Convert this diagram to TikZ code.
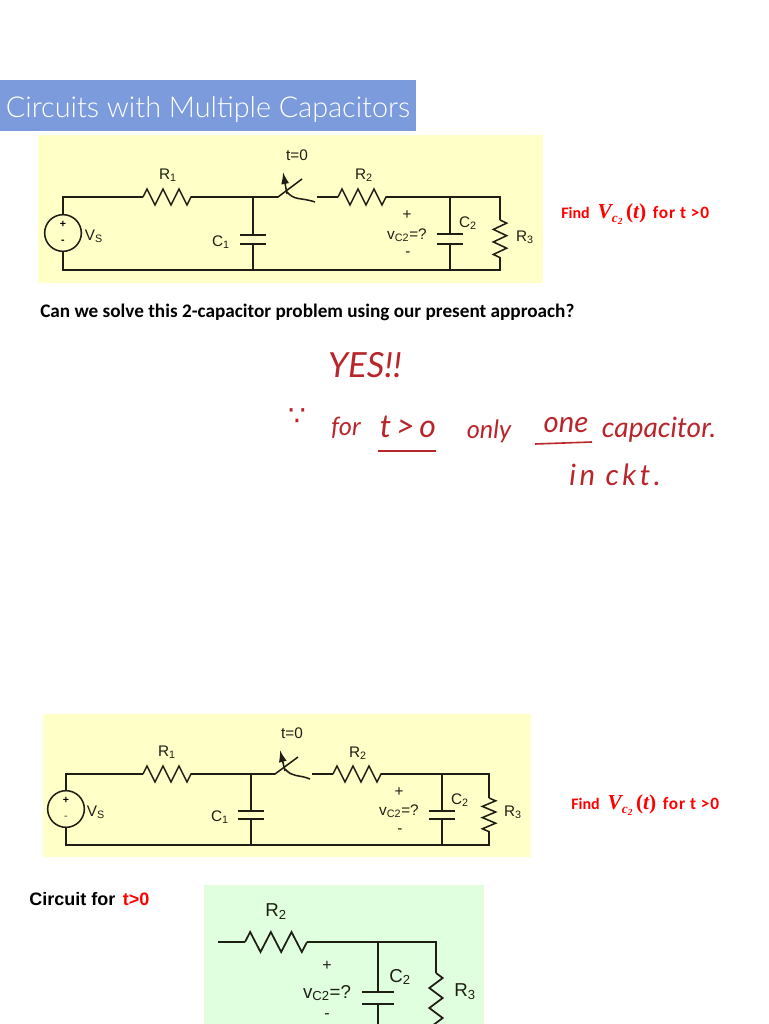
\documentclass[tikz,border=0pt]{standalone}
\usepackage{fontspec}
\setmainfont{Liberation Sans}
\newfontfamily\titlefont{Lato Light}
\newfontfamily\notefont{Carlito}
\newfontfamily\mathfont{Liberation Serif}
\newfontfamily\handfont{Lato}
\usepackage{tikz}
\usetikzlibrary{arrows.meta,decorations.pathmorphing}
\definecolor{wirecol}{HTML}{1E1E14}
\definecolor{inkcol}{HTML}{B8252B}
\definecolor{yellowbg}{HTML}{FFFFC8}
\definecolor{greenbg}{HTML}{DFFFDF}
\definecolor{titlebg}{HTML}{7B9BDC}
\tikzset{
    wire/.style={draw=wirecol,line width=1.15pt},
    res/.style={wire,decorate,decoration={zigzag,segment length=12pt,amplitude=6pt}},
    resv/.style={wire,decorate,decoration={zigzag,segment length=9.4pt,amplitude=5pt}},
    swarrow/.style={wire,-{Latex[length=9pt,width=6pt]}},
    plate/.style={fill=wirecol,inner sep=0pt,minimum width=20pt,minimum height=1.3pt},
    src/.style={shape=circle,draw=wirecol,line width=1.15pt,inner sep=0pt,minimum size=27.5pt},
    lbl/.style={text=wirecol,inner sep=0pt,font=\fontsize{11.5}{13}\selectfont},
    biglbl/.style={text=wirecol,inner sep=0pt,font=\fontsize{14}{16}\selectfont},
    ink/.style={text=inkcol,inner sep=0pt,font=\handfont\itshape\fontsize{19}{22}\selectfont},
    find/.style={text=red,inner sep=0pt,anchor=west,font=\notefont\bfseries\fontsize{12}{14}\selectfont}
}
\newcommand{\vctwo}{{\mathfont\bfseries\itshape\fontsize{16}{18}\selectfont V\lower3pt\hbox{\fontsize{10}{10}\selectfont c\lower1.5pt\hbox{\fontsize{7}{7}\selectfont 2}}\,{\upshape(}t{\upshape)}}}
\newcommand{\findtext}{Find\hspace{6pt}\vctwo\hspace{5pt}{\fontsize{13}{14}\selectfont\addfontfeatures{LetterSpace=5}for t >0}}
\begin{document}
\begin{tikzpicture}[x=0.75pt,y=-0.75pt]
    \clip (0,0) rectangle (768,1024);
    % Title bar and text lines
    \node[fill=titlebg,inner sep=0pt,minimum width=312pt,minimum height=38.25pt,anchor=north west] (titlebar) at (0,80) {};
    \node[text=white,inner sep=0pt,font=\titlefont\fontsize{21.6}{26}\selectfont] (title) at (208,110) {Circuits with Multiple Capacitors};
    \node[inner sep=0pt,anchor=west,font=\notefont\bfseries\fontsize{14.4}{17}\selectfont] (question) at (40,312) {Can we solve this 2-capacitor problem using our present approach?};
    \node[find] (findA) at (561,214) {\findtext};
    \node[find] (findB) at (571,805) {\findtext};
    \node[inner sep=0pt,anchor=west,font=\bfseries\fontsize{13.5}{16}\selectfont] (forlabel) at (29,899) {Circuit for\hspace{2pt} \textcolor{red}{t>0}};

    % Handwritten answer
    \node[ink,font=\handfont\itshape\fontsize{26}{28}\selectfont] (yes) at (365,365) {YES!!};
    \node[ink,font=\fontspec{DejaVu Sans}\fontsize{21}{22}\selectfont] (since) at (297,417) {∵};
    \node[ink] (for) at (346,428) {for};
    \node[ink,font=\handfont\itshape\fontsize{24}{26}\addfontfeatures{LetterSpace=15}\selectfont] (tgt) at (408,427) {t>o};
    \node[ink] (only) at (489,431) {only};
    \node[ink,font=\handfont\itshape\fontsize{22}{24}\selectfont] (one) at (566,425) {one};
    \node[ink,font=\handfont\itshape\fontsize{21}{24}\selectfont] (capacitor) at (659,430) {capacitor.};
    \node[ink,font=\handfont\itshape\fontsize{22}{24}\addfontfeatures{LetterSpace=12}\selectfont] (inckt) at (615,475) {in ckt.};
    \coordinate (ua) at (378,451);
    \coordinate (ub) at (436,451);
    \coordinate (uc) at (535,444);
    \coordinate (ud) at (592,442);
    \draw[draw=inkcol,line width=1.2pt] (ua) -- (ub);
    \draw[draw=inkcol,line width=1.2pt] (uc) -- (ud);

    % First circuit
    \node[fill=yellowbg,inner sep=0pt,minimum width=378.75pt,minimum height=111pt,anchor=north west] (panelA) at (38,135) {};
    \node[src] (vsA) at (63,233) {};
    \coordinate (tlA) at (63,197);
    \coordinate (blA) at (63,270);
    \coordinate (raA) at (143,197);
    \coordinate (rbA) at (193,197);
    \coordinate (jtA) at (253,197);
    \coordinate (jbA) at (253,270);
    \coordinate (swaA) at (278,197);
    \coordinate (swbA) at (302,179);
    \coordinate (swcA) at (315,202);
    \coordinate (swdA) at (287,192);
    \coordinate (sweA) at (287,194);
    \coordinate (swfA) at (283,172);
    \coordinate (rcA) at (317,197);
    \coordinate (rdA) at (338,197);
    \coordinate (reA) at (389,197);
    \coordinate (ktA) at (450,197);
    \coordinate (kbA) at (450,270);
    \coordinate (trA) at (500,197);
    \coordinate (brA) at (500,270);
    \coordinate (rfA) at (500,220);
    \coordinate (rgA) at (500,258);
    \node[plate] (c1tA) at (253,235) {};
    \node[plate] (c1bA) at (253,244) {};
    \node[plate] (c2tA) at (450,234) {};
    \node[plate] (c2bA) at (450,244) {};
    \draw[wire] (vsA) -- (tlA) -- (raA);
    \draw[res] (raA) -- (rbA);
    \draw[wire] (rbA) -- (jtA) -- (swaA) -- (swbA);
    \draw[wire] (swdA) .. controls (295,201) and (300,197) .. (swcA);
    \draw[swarrow] (sweA) -- (swfA);
    \draw[wire] (rcA) -- (rdA);
    \draw[res] (rdA) -- (reA);
    \draw[wire] (reA) -- (ktA) -- (trA) -- (rfA);
    \draw[resv] (rfA) -- (rgA);
    \draw[wire] (rgA) -- (brA) -- (kbA) -- (jbA) -- (blA) -- (vsA);
    \draw[wire] (jtA) -- (c1tA);
    \draw[wire] (c1bA) -- (jbA);
    \draw[wire] (ktA) -- (c2tA);
    \draw[wire] (c2bA) -- (kbA);
    \node[inner sep=0pt,font=\bfseries\fontsize{8}{8}\selectfont] (plusA) at (63,224) {+};
    \node[inner sep=0pt,font=\bfseries\fontsize{8}{8}\selectfont] (minusA) at (63,242) {-};
    \node[lbl] (tzA) at (297,155) {t=0};
    \node[lbl] (r1A) at (168,175) {R\textsubscript{1}};
    \node[lbl] (r2A) at (364,175) {R\textsubscript{2}};
    \node[lbl] (r3A) at (525,237) {R\textsubscript{3}};
    \node[lbl] (c1A) at (221,242) {C\textsubscript{1}};
    \node[lbl] (c2A) at (468,223) {C\textsubscript{2}};
    \node[lbl] (vlA) at (94,236) {V\textsubscript{S}};
    \node[lbl] (vpA) at (407,215) {+};
    \node[lbl] (vcA) at (407,235) {v\textsubscript{C2}=?};
    \node[lbl] (vmA) at (408,254) {-};

    % Second circuit
    \node[fill=yellowbg,inner sep=0pt,minimum width=366pt,minimum height=107.25pt,anchor=north west] (panelB) at (43,714) {};
    \node[src] (vsB) at (66,809) {};
    \coordinate (tlB) at (66,774);
    \coordinate (blB) at (66,845);
    \coordinate (raB) at (143,774);
    \coordinate (rbB) at (192,774);
    \coordinate (jtB) at (251,774);
    \coordinate (jbB) at (251,845);
    \coordinate (swaB) at (275,774);
    \coordinate (swbB) at (298,757);
    \coordinate (swcB) at (310,779);
    \coordinate (swdB) at (285,769);
    \coordinate (sweB) at (285,771);
    \coordinate (swfB) at (280,750);
    \coordinate (rcB) at (312,774);
    \coordinate (rdB) at (333,774);
    \coordinate (reB) at (383,774);
    \coordinate (ktB) at (442,774);
    \coordinate (kbB) at (442,845);
    \coordinate (trB) at (489,774);
    \coordinate (brB) at (489,845);
    \coordinate (rfB) at (489,798);
    \coordinate (rgB) at (489,832);
    \node[plate] (c1tB) at (251,811) {};
    \node[plate] (c1bB) at (251,819) {};
    \node[plate] (c2tB) at (442,811) {};
    \node[plate] (c2bB) at (442,819) {};
    \draw[wire] (vsB) -- (tlB) -- (raB);
    \draw[res] (raB) -- (rbB);
    \draw[wire] (rbB) -- (jtB) -- (swaB) -- (swbB);
    \draw[wire] (swdB) .. controls (293,778) and (298,774) .. (swcB);
    \draw[swarrow] (sweB) -- (swfB);
    \draw[wire] (rcB) -- (rdB);
    \draw[res] (rdB) -- (reB);
    \draw[wire] (reB) -- (ktB) -- (trB) -- (rfB);
    \draw[resv,decoration={segment length=8.4pt}] (rfB) -- (rgB);
    \draw[wire] (rgB) -- (brB) -- (kbB) -- (jbB) -- (blB) -- (vsB);
    \draw[wire] (jtB) -- (c1tB);
    \draw[wire] (c1bB) -- (jbB);
    \draw[wire] (ktB) -- (c2tB);
    \draw[wire] (c2bB) -- (kbB);
    \node[inner sep=0pt,font=\bfseries\fontsize{8}{8}\selectfont] (plusB) at (66,800) {+};
    \node[inner sep=0pt,text=gray,font=\bfseries\fontsize{8}{8}\selectfont] (minusB) at (66,818) {-};
    \node[lbl] (tzB) at (292,733) {t=0};
    \node[lbl] (r1B) at (167,752) {R\textsubscript{1}};
    \node[lbl] (r2B) at (358,753) {R\textsubscript{2}};
    \node[lbl] (r3B) at (513,812) {R\textsubscript{3}};
    \node[lbl] (c1B) at (220,817) {C\textsubscript{1}};
    \node[lbl] (c2B) at (460,800) {C\textsubscript{2}};
    \node[lbl] (vlB) at (96,812) {V\textsubscript{S}};
    \node[lbl] (vpB) at (399,792) {+};
    \node[lbl] (vcB) at (399,811) {v\textsubscript{C2}=?};
    \node[lbl] (vmB) at (400,831) {-};

    % Circuit for t>0
    \node[fill=greenbg,inner sep=0pt,minimum width=210pt,minimum height=105pt,anchor=north west] (panelC) at (204,885) {};
    \coordinate (inC) at (218,942);
    \coordinate (raC) at (245,942);
    \coordinate (rbC) at (307,942);
    \coordinate (ktC) at (378,942);
    \coordinate (kbC) at (378,1030);
    \coordinate (trC) at (436,942);
    \coordinate (rfC) at (436,973);
    \coordinate (rgC) at (436,1033);
    \node[plate,minimum width=24pt,minimum height=1.6pt] (c2tC) at (378,992) {};
    \node[plate,minimum width=24pt,minimum height=1.6pt] (c2bC) at (378,1004) {};
    \draw[wire,line width=1.3pt] (inC) -- (raC);
    \draw[res,line width=1.3pt,decoration={segment length=15.5pt,amplitude=7.5pt}] (raC) -- (rbC);
    \draw[wire,line width=1.3pt] (rbC) -- (ktC) -- (trC) -- (rfC);
    \draw[resv,line width=1.3pt,decoration={segment length=15pt,amplitude=5pt}] (rfC) -- (rgC);
    \draw[wire,line width=1.3pt] (ktC) -- (c2tC);
    \draw[wire,line width=1.3pt] (c2bC) -- (kbC);
    \node[biglbl] (r2C) at (276,912) {R\textsubscript{2}};
    \node[biglbl] (c2C) at (400,977) {C\textsubscript{2}};
    \node[biglbl] (r3C) at (465,992) {R\textsubscript{3}};
    \node[biglbl,font=\fontsize{12}{14}\selectfont] (vpC) at (327,966) {+};
    \node[biglbl] (vcC) at (327,993) {v\textsubscript{C2}=?};
    \node[biglbl,font=\fontsize{12}{14}\selectfont] (vmC) at (327,1016) {-};
\end{tikzpicture}
\end{document}
